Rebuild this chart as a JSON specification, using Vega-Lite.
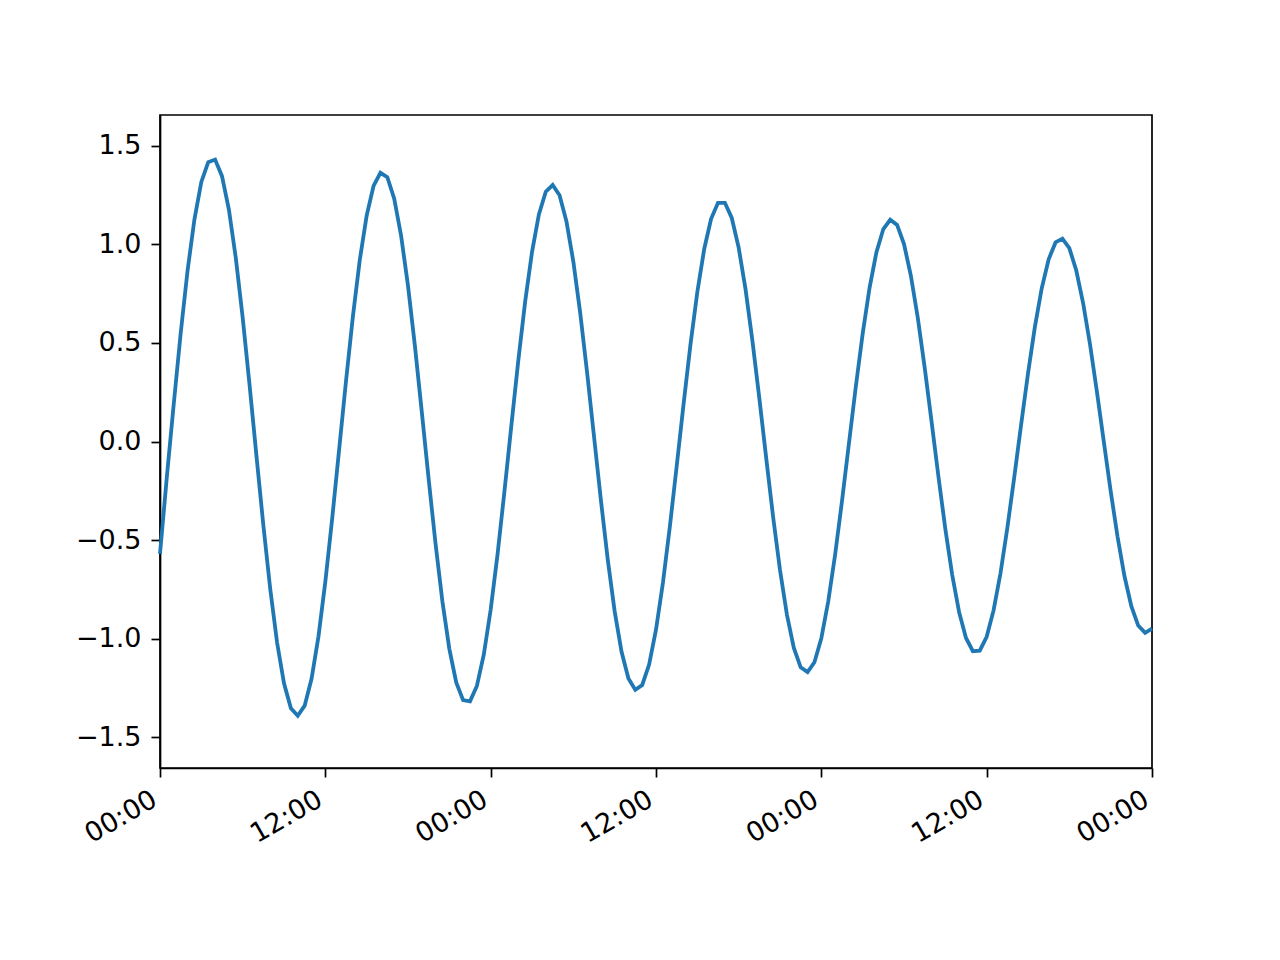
{
  "$schema": "https://vega.github.io/schema/vega-lite/v6.json",
  "width": 992,
  "height": 653,
  "autosize": "none",
  "padding": {"left": 160, "top": 115, "right": 128, "bottom": 192},
  "background": "white",
  "config": {
    "view": {"stroke": "black", "strokeWidth": 1.7},
    "axis": {
      "grid": false,
      "domainColor": "black",
      "tickColor": "black",
      "tickSize": 9,
      "tickWidth": 1.7,
      "domainWidth": 1.7,
      "labelColor": "black",
      "labelFont": "DejaVu Sans",
      "labelFontSize": 27,
      "labelPadding": 10
    }
  },
  "data": {
    "values": [
      {"t": "2021-01-01T00:00:00", "y": -0.57},
      {"t": "2021-01-01T00:30:00", "y": -0.177},
      {"t": "2021-01-01T01:00:00", "y": 0.192},
      {"t": "2021-01-01T01:30:00", "y": 0.548},
      {"t": "2021-01-01T02:00:00", "y": 0.866},
      {"t": "2021-01-01T02:30:00", "y": 1.126},
      {"t": "2021-01-01T03:00:00", "y": 1.316},
      {"t": "2021-01-01T03:30:00", "y": 1.416},
      {"t": "2021-01-01T04:00:00", "y": 1.429},
      {"t": "2021-01-01T04:30:00", "y": 1.345},
      {"t": "2021-01-01T05:00:00", "y": 1.176},
      {"t": "2021-01-01T05:30:00", "y": 0.931},
      {"t": "2021-01-01T06:00:00", "y": 0.629},
      {"t": "2021-01-01T06:30:00", "y": 0.287},
      {"t": "2021-01-01T07:00:00", "y": -0.072},
      {"t": "2021-01-01T07:30:00", "y": -0.424},
      {"t": "2021-01-01T08:00:00", "y": -0.747},
      {"t": "2021-01-01T08:30:00", "y": -1.02},
      {"t": "2021-01-01T09:00:00", "y": -1.226},
      {"t": "2021-01-01T09:30:00", "y": -1.352},
      {"t": "2021-01-01T10:00:00", "y": -1.39},
      {"t": "2021-01-01T10:30:00", "y": -1.339},
      {"t": "2021-01-01T11:00:00", "y": -1.203},
      {"t": "2021-01-01T11:30:00", "y": -0.989},
      {"t": "2021-01-01T12:00:00", "y": -0.711},
      {"t": "2021-01-01T12:30:00", "y": -0.389},
      {"t": "2021-01-01T13:00:00", "y": -0.042},
      {"t": "2021-01-01T13:30:00", "y": 0.306},
      {"t": "2021-01-01T14:00:00", "y": 0.634},
      {"t": "2021-01-01T14:30:00", "y": 0.92},
      {"t": "2021-01-01T15:00:00", "y": 1.145},
      {"t": "2021-01-01T15:30:00", "y": 1.296},
      {"t": "2021-01-01T16:00:00", "y": 1.362},
      {"t": "2021-01-01T16:30:00", "y": 1.34},
      {"t": "2021-01-01T17:00:00", "y": 1.231},
      {"t": "2021-01-01T17:30:00", "y": 1.043},
      {"t": "2021-01-01T18:00:00", "y": 0.789},
      {"t": "2021-01-01T18:30:00", "y": 0.485},
      {"t": "2021-01-01T19:00:00", "y": 0.151},
      {"t": "2021-01-01T19:30:00", "y": -0.191},
      {"t": "2021-01-01T20:00:00", "y": -0.519},
      {"t": "2021-01-01T20:30:00", "y": -0.812},
      {"t": "2021-01-01T21:00:00", "y": -1.051},
      {"t": "2021-01-01T21:30:00", "y": -1.221},
      {"t": "2021-01-01T22:00:00", "y": -1.311},
      {"t": "2021-01-01T22:30:00", "y": -1.317},
      {"t": "2021-01-01T23:00:00", "y": -1.239},
      {"t": "2021-01-01T23:30:00", "y": -1.081},
      {"t": "2021-01-02T00:00:00", "y": -0.853},
      {"t": "2021-01-02T00:30:00", "y": -0.571},
      {"t": "2021-01-02T01:00:00", "y": -0.253},
      {"t": "2021-01-02T01:30:00", "y": 0.08},
      {"t": "2021-01-02T02:00:00", "y": 0.407},
      {"t": "2021-01-02T02:30:00", "y": 0.707},
      {"t": "2021-01-02T03:00:00", "y": 0.96},
      {"t": "2021-01-02T03:30:00", "y": 1.151},
      {"t": "2021-01-02T04:00:00", "y": 1.266},
      {"t": "2021-01-02T04:30:00", "y": 1.3},
      {"t": "2021-01-02T05:00:00", "y": 1.248},
      {"t": "2021-01-02T05:30:00", "y": 1.116},
      {"t": "2021-01-02T06:00:00", "y": 0.912},
      {"t": "2021-01-02T06:30:00", "y": 0.651},
      {"t": "2021-01-02T07:00:00", "y": 0.349},
      {"t": "2021-01-02T07:30:00", "y": 0.026},
      {"t": "2021-01-02T08:00:00", "y": -0.297},
      {"t": "2021-01-02T08:30:00", "y": -0.599},
      {"t": "2021-01-02T09:00:00", "y": -0.861},
      {"t": "2021-01-02T09:30:00", "y": -1.066},
      {"t": "2021-01-02T10:00:00", "y": -1.201},
      {"t": "2021-01-02T10:30:00", "y": -1.259},
      {"t": "2021-01-02T11:00:00", "y": -1.234},
      {"t": "2021-01-02T11:30:00", "y": -1.131},
      {"t": "2021-01-02T12:00:00", "y": -0.954},
      {"t": "2021-01-02T12:30:00", "y": -0.717},
      {"t": "2021-01-02T13:00:00", "y": -0.435},
      {"t": "2021-01-02T13:30:00", "y": -0.126},
      {"t": "2021-01-02T14:00:00", "y": 0.189},
      {"t": "2021-01-02T14:30:00", "y": 0.49},
      {"t": "2021-01-02T15:00:00", "y": 0.758},
      {"t": "2021-01-02T15:30:00", "y": 0.976},
      {"t": "2021-01-02T16:00:00", "y": 1.129},
      {"t": "2021-01-02T16:30:00", "y": 1.21},
      {"t": "2021-01-02T17:00:00", "y": 1.21},
      {"t": "2021-01-02T17:30:00", "y": 1.133},
      {"t": "2021-01-02T18:00:00", "y": 0.983},
      {"t": "2021-01-02T18:30:00", "y": 0.771},
      {"t": "2021-01-02T19:00:00", "y": 0.51},
      {"t": "2021-01-02T19:30:00", "y": 0.219},
      {"t": "2021-01-02T20:00:00", "y": -0.085},
      {"t": "2021-01-02T20:30:00", "y": -0.382},
      {"t": "2021-01-02T21:00:00", "y": -0.651},
      {"t": "2021-01-02T21:30:00", "y": -0.877},
      {"t": "2021-01-02T22:00:00", "y": -1.045},
      {"t": "2021-01-02T22:30:00", "y": -1.145},
      {"t": "2021-01-02T23:00:00", "y": -1.169},
      {"t": "2021-01-02T23:30:00", "y": -1.119},
      {"t": "2021-01-03T00:00:00", "y": -0.997},
      {"t": "2021-01-03T00:30:00", "y": -0.811},
      {"t": "2021-01-03T01:00:00", "y": -0.574},
      {"t": "2021-01-03T01:30:00", "y": -0.302},
      {"t": "2021-01-03T02:00:00", "y": -0.012},
      {"t": "2021-01-03T02:30:00", "y": 0.277},
      {"t": "2021-01-03T03:00:00", "y": 0.546},
      {"t": "2021-01-03T03:30:00", "y": 0.779},
      {"t": "2021-01-03T04:00:00", "y": 0.96},
      {"t": "2021-01-03T04:30:00", "y": 1.077},
      {"t": "2021-01-03T05:00:00", "y": 1.124},
      {"t": "2021-01-03T05:30:00", "y": 1.098},
      {"t": "2021-01-03T06:00:00", "y": 1.001},
      {"t": "2021-01-03T06:30:00", "y": 0.84},
      {"t": "2021-01-03T07:00:00", "y": 0.627},
      {"t": "2021-01-03T07:30:00", "y": 0.375},
      {"t": "2021-01-03T08:00:00", "y": 0.101},
      {"t": "2021-01-03T08:30:00", "y": -0.178},
      {"t": "2021-01-03T09:00:00", "y": -0.443},
      {"t": "2021-01-03T09:30:00", "y": -0.677},
      {"t": "2021-01-03T10:00:00", "y": -0.865},
      {"t": "2021-01-03T10:30:00", "y": -0.996},
      {"t": "2021-01-03T11:00:00", "y": -1.063},
      {"t": "2021-01-03T11:30:00", "y": -1.06},
      {"t": "2021-01-03T12:00:00", "y": -0.99},
      {"t": "2021-01-03T12:30:00", "y": -0.856},
      {"t": "2021-01-03T13:00:00", "y": -0.669},
      {"t": "2021-01-03T13:30:00", "y": -0.438},
      {"t": "2021-01-03T14:00:00", "y": -0.182},
      {"t": "2021-01-03T14:30:00", "y": 0.085},
      {"t": "2021-01-03T15:00:00", "y": 0.345},
      {"t": "2021-01-03T15:30:00", "y": 0.581},
      {"t": "2021-01-03T16:00:00", "y": 0.778},
      {"t": "2021-01-03T16:30:00", "y": 0.924},
      {"t": "2021-01-03T17:00:00", "y": 1.009},
      {"t": "2021-01-03T17:30:00", "y": 1.028},
      {"t": "2021-01-03T18:00:00", "y": 0.98},
      {"t": "2021-01-03T18:30:00", "y": 0.868},
      {"t": "2021-01-03T19:00:00", "y": 0.702},
      {"t": "2021-01-03T19:30:00", "y": 0.493},
      {"t": "2021-01-03T20:00:00", "y": 0.253},
      {"t": "2021-01-03T20:30:00", "y": 0.0},
      {"t": "2021-01-03T21:00:00", "y": -0.251},
      {"t": "2021-01-03T21:30:00", "y": -0.483},
      {"t": "2021-01-03T22:00:00", "y": -0.682},
      {"t": "2021-01-03T22:30:00", "y": -0.835},
      {"t": "2021-01-03T23:00:00", "y": -0.933},
      {"t": "2021-01-03T23:30:00", "y": -0.97},
      {"t": "2021-01-04T00:00:00", "y": -0.948}
    ]
  },
  "mark": {"type": "line", "color": "#1f77b4", "strokeWidth": 3.8},
  "encoding": {
    "x": {
      "field": "t",
      "type": "temporal",
      "title": null,
      "scale": {"domain": [{"year": 2021, "month": 1, "date": 1, "hours": 0}, {"year": 2021, "month": 1, "date": 4, "hours": 0}]},
      "axis": {
        "values": [
          {"year": 2021, "month": 1, "date": 1, "hours": 0},
          {"year": 2021, "month": 1, "date": 1, "hours": 12},
          {"year": 2021, "month": 1, "date": 2, "hours": 0},
          {"year": 2021, "month": 1, "date": 2, "hours": 12},
          {"year": 2021, "month": 1, "date": 3, "hours": 0},
          {"year": 2021, "month": 1, "date": 3, "hours": 12},
          {"year": 2021, "month": 1, "date": 4, "hours": 0}
        ],
        "format": "%H:%M",
        "labelAngle": -30,
        "labelAlign": "right",
        "labelBaseline": "top",
        "labelPadding": 9,
        "labelOffset": -12,
        "labelOverlap": false,
        "labelFlush": false
      }
    },
    "y": {
      "field": "y",
      "type": "quantitative",
      "title": null,
      "scale": {"domain": [-1.655, 1.655], "nice": false, "zero": false},
      "axis": {
        "values": [-1.5, -1.0, -0.5, 0.0, 0.5, 1.0, 1.5],
        "format": ".1f",
        "labelExpr": "replace(datum.label, '-', '−')"
      }
    }
  }
}
